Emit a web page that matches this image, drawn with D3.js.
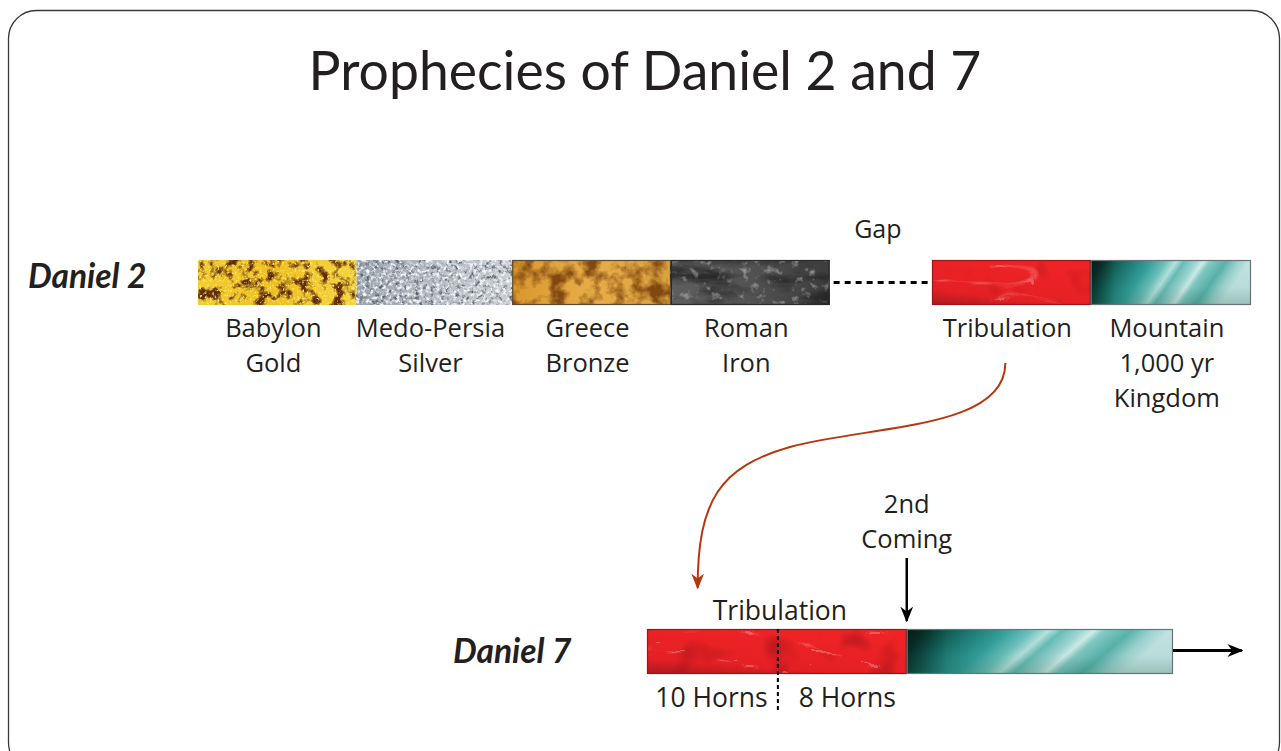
<!DOCTYPE html>
<html><head><meta charset="utf-8">
<script src="https://cdn.jsdelivr.net/npm/d3@7"></script>
<style>
html,body{margin:0;padding:0;background:#fff;}
svg{display:block;}
</style></head>
<body>
<svg id="chart" width="1281" height="751"></svg>
<script>
// ---------- data ----------
const title = "Prophecies of Daniel 2 and 7";
const dan2Names = ["Babylon", "Medo-Persia", "Greece", "Roman", "Gap", "Tribulation", "Mountain"];
const dan2Spans = [1, 0.98, 1, 1, 0.645, 1, 1.01];
const dan2Materials = ["gold", "silver", "bronze", "iron", "gap", "red", "teal"];
const dan2Labels = [["Babylon", "Gold"], ["Medo-Persia", "Silver"], ["Greece", "Bronze"], ["Roman", "Iron"], [], ["Tribulation"], ["Mountain", "1,000 yr", "Kingdom"]];
const gapLabel = "Gap";
const dan7Names = ["Tribulation", "Kingdom"];
const dan7Spans = [1, 1.025];
const dan7Materials = ["red", "teal"];
const dan7Horns = ["10 Horns", "8 Horns"];
const hornSplit = 0.5;          // dotted split inside the tribulation
const dan7ArrowEnd = 2.29;      // arrow continues past the kingdom
const secondComing = ["2nd", "Coming"];
const rowLabels = ["Daniel 2", "Daniel 7"];

// ---------- setup ----------
const svg = d3.select("#chart");
const defs = svg.append("defs");
const ink = "#231f20";
const labelFont = "'Open Sans', sans-serif";
const labelSize = 25.5;
const lineGap = 34.8;

// frame
svg.append("rect").attr("x", 8.5).attr("y", 10.5).attr("width", 1271).attr("height", 760)
  .attr("rx", 28).attr("fill", "#fff").attr("stroke", "#3a3a3a").attr("stroke-width", 1.3);

svg.append("text").attr("x", 645).attr("y", 90).attr("text-anchor", "middle")
  .attr("font-family", "Lato, sans-serif").attr("font-size", 53.5).attr("fill", ink).text(title);

// ---------- textures ----------
function linGrad(id, stops, x1 = 0, y1 = 0, x2 = 1, y2 = 0, tf = null) {
  const g = defs.append("linearGradient").attr("id", id)
    .attr("x1", x1).attr("y1", y1).attr("x2", x2).attr("y2", y2);
  if (tf) g.attr("gradientTransform", tf);
  stops.forEach(s => g.append("stop").attr("offset", s[0]).attr("stop-color", s[1]).attr("stop-opacity", s[2] == null ? 1 : s[2]));
}
function noiseFilter(id, freq, oct, seed, rgb, aMul, aOff, type = "fractalNoise") {
  const f = defs.append("filter").attr("id", id).attr("x", 0).attr("y", 0).attr("width", 1).attr("height", 1)
    .attr("filterUnits", "objectBoundingBox").attr("color-interpolation-filters", "sRGB");
  f.append("feTurbulence").attr("type", type).attr("baseFrequency", freq).attr("numOctaves", oct).attr("seed", seed).attr("result", "n");
  f.append("feColorMatrix").attr("in", "n").attr("type", "matrix")
    .attr("values", `0 0 0 0 ${rgb[0]}  0 0 0 0 ${rgb[1]}  0 0 0 0 ${rgb[2]}  ${aMul} 0 0 0 ${aOff}`);
}
linGrad("g-gold", [[0, "#f3cc30"], [0.5, "#eebf22"], [1, "#f5d540"]]);
linGrad("g-silver", [[0, "#9aa2ab"], [0.5, "#b4bac1"], [1, "#c9cdd2"]]);
linGrad("g-bronze", [[0, "#d9982e"], [0.5, "#e8ad48"], [1, "#dca23e"]]);
linGrad("g-iron", [[0, "#5e5e5e"], [0.5, "#525252"], [1, "#3c3c3c"]]);
linGrad("g-red", [[0, "#a81a1f"], [0.3, "#e42024"], [1, "#ef2325"]], 0, 1, 0.45, 0);
linGrad("g-teal", [[0, "#072820"], [0.08, "#0a3a32"], [0.22, "#177069"], [0.38, "#34a09c"], [0.48, "#6fc3be"],
  [0.54, "#b6e3e1"], [0.59, "#69beb8"], [0.67, "#a2d9d5"], [0.71, "#d2eeec"], [0.75, "#84ccc6"], [0.85, "#58b4ac"],
  [0.93, "#9bd4d0"], [1, "#c2e5e3"]], 0, 0, 1, 0, "skewX(-11)");
linGrad("g-shade", [[0, "#000", 0], [0.6, "#0a3a20", 0.05], [1, "#0a3a20", 0.22]], 0, 0, 0, 1);
linGrad("g-left", [[0, "#000", 0.35], [0.15, "#000", 0], [1, "#000", 0]]);

noiseFilter("n-gold", 0.09, 4, 4, [0.38, 0.17, 0.03], 4.5, -2.1);
noiseFilter("n-gold2", 0.4, 2, 9, [1, 0.93, 0.5], 4, -2.2);
noiseFilter("n-silver", 0.2, 4, 2, [0.33, 0.37, 0.43], 3.5, -1.75);
noiseFilter("n-silver2", 0.3, 3, 7, [0.96, 0.97, 0.99], 3.5, -1.6);
noiseFilter("n-bronze", 0.06, 4, 5, [0.5, 0.28, 0.06], 3, -1.25);
noiseFilter("n-iron", "0.015 0.06", 4, 3, [0.13, 0.13, 0.13], 2.5, -1.1);
noiseFilter("n-iron2", 0.12, 3, 8, [0.72, 0.72, 0.72], 2.5, -1.45);
noiseFilter("n-red", "0.008 0.03", 2, 6, [1, 0.8, 0.8], -4, 0.32, "turbulence");
noiseFilter("n-red2", 0.03, 2, 11, [0.5, 0.05, 0.08], 1.5, -0.85);

const layers = {
  gold: [["fill", "url(#g-gold)"], ["filter", "url(#n-gold)"], ["filter", "url(#n-gold2)"]],
  silver: [["fill", "url(#g-silver)"], ["filter", "url(#n-silver)"], ["filter", "url(#n-silver2)"]],
  bronze: [["fill", "url(#g-bronze)"], ["filter", "url(#n-bronze)"]],
  iron: [["fill", "url(#g-iron)"], ["filter", "url(#n-iron)"], ["filter", "url(#n-iron2)"]],
  red: [["fill", "url(#g-red)"], ["filter", "url(#n-red2)"], ["filter", "url(#n-red)"]],
  teal: [["fill", "url(#g-teal)"], ["fill", "url(#g-shade)"], ["fill", "url(#g-left)"]]
};
const borders = { gold: "none", silver: "none", bronze: "#5a4a30", iron: "#2a2a2a", red: "#9c1418", teal: "#6a7478" };

function drawBar(g, x, y, w, h, mat) {
  layers[mat].forEach(([kind, val]) => {
    const r = g.append("rect").attr("x", x).attr("y", y).attr("width", w).attr("height", h);
    if (kind === "fill") r.attr("fill", val); else r.attr("fill", "#fff").attr("filter", val);
  });
  if (borders[mat] !== "none")
    g.append("rect").attr("x", x + 0.5).attr("y", y + 0.5).attr("width", w - 1).attr("height", h - 1)
      .attr("fill", "none").attr("stroke", borders[mat]).attr("stroke-width", 1.2);
}

// arrow markers
function marker(id, color, size) {
  defs.append("marker").attr("id", id).attr("viewBox", "0 0 10 10").attr("refX", 9).attr("refY", 5)
    .attr("markerWidth", size).attr("markerHeight", size).attr("markerUnits", "userSpaceOnUse").attr("orient", "auto")
    .append("path").attr("d", "M0,1 L10,5 L0,9 L3,5 Z").attr("fill", color);
}
marker("m-black", "#000", 16);
marker("m-rust", "#b5370f", 16);

// multi-line label as one text element with tspans
function label(g, x, y, lines) {
  const t = g.append("text").attr("x", x).attr("y", y).attr("text-anchor", "middle")
    .attr("font-family", labelFont).attr("font-size", labelSize).attr("fill", ink);
  [].concat(lines).forEach((s, j) => t.append("tspan").attr("x", x).attr("dy", j ? lineGap : 0).text(s));
  return t;
}

// ---------- Daniel 2 ----------
const cum2 = d3.cumsum(dan2Spans);
const start2 = cum2.map((c, i) => c - dan2Spans[i]);
const x2 = d3.scaleLinear().domain([0, d3.sum(dan2Spans)]).range([198, 1251]);
const y2 = 260, h2 = 45;
const g2 = svg.append("g");

dan2Names.forEach((n, i) => {
  const x0 = x2(start2[i]), x1 = x2(cum2[i]);
  if (dan2Materials[i] === "gap") {
    g2.append("line").attr("x1", x0 + 4).attr("x2", x1 - 4).attr("y1", y2 + h2 / 2).attr("y2", y2 + h2 / 2)
      .attr("stroke", "#000").attr("stroke-width", 3).attr("stroke-dasharray", "6 5");
    label(g2, (x0 + x1) / 2 - 3, 238, gapLabel).attr("font-size", 25);
  } else {
    drawBar(g2, x0, y2, x1 - x0, h2, dan2Materials[i]);
  }
  if (dan2Labels[i].length) label(g2, (x0 + x1) / 2 - 4, 337, dan2Labels[i]);
});
svg.append("text").attr("x", 28).attr("y", 288).attr("font-family", "Lato, sans-serif").attr("font-style", "italic")
  .attr("font-weight", 700).attr("font-size", 33.5).attr("fill", ink).text(rowLabels[0]);

// ---------- Daniel 7 ----------
const cum7 = d3.cumsum(dan7Spans);
const start7 = cum7.map((c, i) => c - dan7Spans[i]);
const x7 = d3.scaleLinear().domain([0, d3.sum(dan7Spans)]).range([647, 1173]);
const y7 = 629, h7 = 45;
const g7 = svg.append("g");
dan7Names.forEach((n, i) => drawBar(g7, x7(start7[i]), y7, x7(cum7[i]) - x7(start7[i]), h7, dan7Materials[i]));

// tribulation label & horns
label(g7, (x7(0) + x7(cum7[0])) / 2 + 3, 620, dan7Names[0]).attr("font-size", 26.5);
const xs = x7(hornSplit * dan7Spans[0]) + 1;
g7.append("line").attr("x1", xs).attr("x2", xs).attr("y1", y7).attr("y2", 711)
  .attr("stroke", "#000").attr("stroke-width", 2).attr("stroke-dasharray", "4 3");
label(g7, (x7(0) + xs) / 2 - 1, 707, dan7Horns[0]).attr("font-size", 26.5);
label(g7, (xs + x7(cum7[0])) / 2 + 5, 707, dan7Horns[1]).attr("font-size", 26.5);

// arrow beyond kingdom
g7.append("line").attr("x1", x7(cum7[1])).attr("x2", x7(dan7ArrowEnd)).attr("y1", y7 + h7 / 2 - 1).attr("y2", y7 + h7 / 2 - 1)
  .attr("stroke", "#000").attr("stroke-width", 3).attr("marker-end", "url(#m-black)");

// second coming
const xc = x7(cum7[0]);
label(g7, xc, 513, secondComing);
g7.append("line").attr("x1", xc).attr("x2", xc).attr("y1", 558).attr("y2", 621)
  .attr("stroke", "#000").attr("stroke-width", 2.5).attr("marker-end", "url(#m-black)");

svg.append("text").attr("x", 453).attr("y", 663).attr("font-family", "Lato, sans-serif").attr("font-style", "italic")
  .attr("font-weight", 700).attr("font-size", 33.5).attr("fill", ink).text(rowLabels[1]);

// curved link from Daniel 2 tribulation to Daniel 7 tribulation
const sx = (x2(start2[5]) + x2(cum2[5])) / 2 - 6, sy = 363;
const ex = x7(0.195), ey = 588;
const p = d3.path();
p.moveTo(sx, sy);
p.bezierCurveTo(sx, sy + 67, sx - 135, 425, 790, 447);
p.bezierCurveTo(720, 467, ex, 500, ex, ey);
svg.append("path").attr("d", p.toString()).attr("fill", "none").attr("stroke", "#b5370f")
  .attr("stroke-width", 2).attr("marker-end", "url(#m-rust)");
</script>
</body></html>
